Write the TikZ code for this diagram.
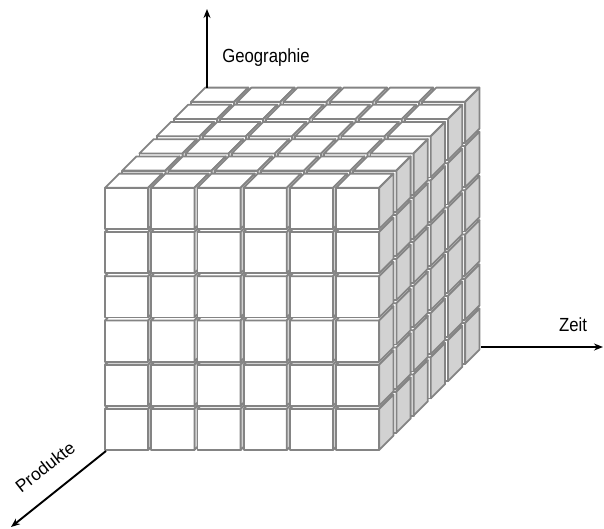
\documentclass[tikz,border=0pt]{standalone}
\usepackage{fontspec}
\setmainfont{Liberation Sans}
\usetikzlibrary{arrows.meta}
\definecolor{edgegray}{RGB}{132,132,132}
\definecolor{sidegray}{RGB}{210,210,210}
\begin{document}
\begin{tikzpicture}[x=1pt,y=-1pt,
  cubeedge/.style={draw=edgegray,line width=1.8pt,line join=round},
  axisline/.style={line width=1.9pt,-{Stealth[length=9pt,width=7pt]}},
  lbl/.style={inner sep=0pt,font=\fontsize{19}{22}\selectfont}]
\useasboundingbox (0,0) rectangle (604,528);
\foreach \k in {5,...,0}{
 \foreach \r in {0,...,5}{
  \foreach \c in {0,...,5}{
   \pgfmathsetmacro\X{105+46.2*\c+17.2*\k}
   \pgfmathsetmacro\Y{450-44.2*\r-17.2*\k}
   \path[cubeedge,fill=white] (\X,\Y) rectangle ++(43.2,-41.2);
   \path[cubeedge,fill=white] (\X,\Y-41.2) -- ++(43.2,0) -- ++(14.2,-14.2) -- ++(-43.2,0) -- cycle;
   \path[cubeedge,fill=sidegray] (\X+43.2,\Y) -- ++(14.2,-14.2) -- ++(0,-41.2) -- ++(-14.2,14.2) -- cycle;
  }}}
\coordinate (g0) at (207,88);
\coordinate (g1) at (207,9);
\coordinate (z0) at (481,347);
\coordinate (z1) at (603,347);
\coordinate (p0) at (106,451);
\coordinate (p1) at (11,527);
\draw[axisline] (g0) -- (g1);
\draw[axisline] (z0) -- (z1);
\draw[axisline] (p0) -- (p1);
\node[lbl,anchor=base] (geo) at (266,62) {\scalebox{0.88}[1]{Geographie}};
\node[lbl,anchor=base] (zeit) at (573,331) {\scalebox{0.88}[1]{Zeit}};
\node[inner sep=0pt,font=\fontsize{17.5}{20}\selectfont,rotate=38] (prod) at (45,467) {Produkte};
\end{tikzpicture}
\end{document}
